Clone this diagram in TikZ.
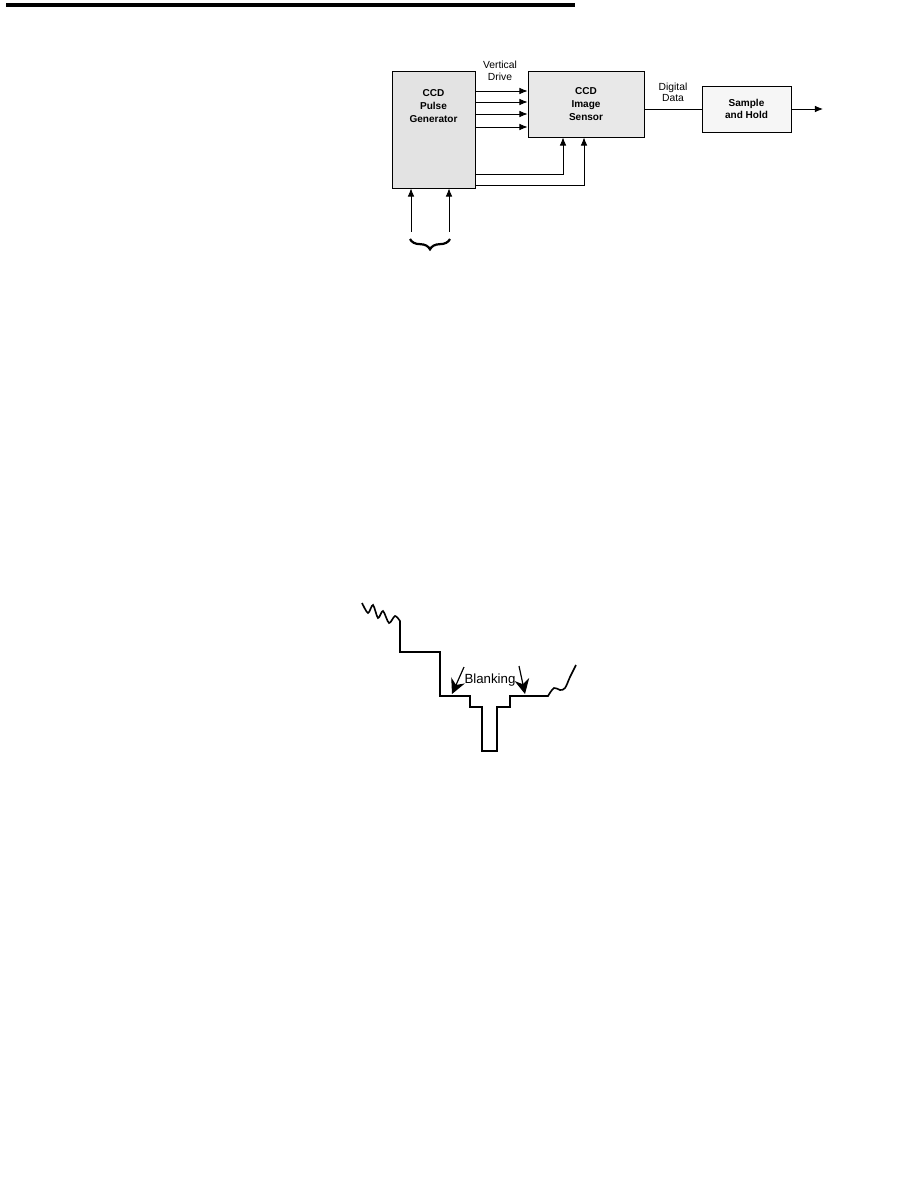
\documentclass[tikz,border=0pt]{standalone}
\usepackage{fontspec}
\setmainfont{Liberation Sans}
\usetikzlibrary{arrows.meta, positioning, decorations.pathreplacing}

\newcommand{\pxu}{0.678pt}
\tikzset{
  blk/.style={draw, line width=0.6pt, inner sep=0pt, align=center,
    font=\bfseries\fontsize{6.8}{8.6}\selectfont},
  blklbl/.style={inner sep=0pt, align=center, font=\bfseries\fontsize{6.8}{8.8}\selectfont},
  sig/.style={line width=0.6pt, -{Latex[length=5.5pt,width=4.5pt]}},
  wire/.style={line width=0.6pt},
  tag/.style={font=\fontsize{7}{7.8}\selectfont, align=center, inner sep=0pt},
  wave/.style={line width=1.1pt, line join=miter},
  pointer/.style={line width=0.8pt, -{Stealth[length=10pt,width=10pt]}}
}

\begin{document}
\begin{tikzpicture}[x=\pxu, y=-\pxu]
    \useasboundingbox (0,0) rectangle (902,1178);

    % --- Filet du haut ---
    \draw[line width=2.8pt] (6,5) -- (575,5);

    % --- Blocs ---
    \node[blk, fill=gray!22, minimum width=83*\pxu, minimum height=117*\pxu] (gen) at (433.5,129.5) {};
    \node[blklbl] (genlbl) at (433.5,106) {CCD\\Pulse\\Generator};
    \node[blk, fill=gray!18, minimum width=116*\pxu, minimum height=66*\pxu] (sens) at (586,104) {CCD\\Image\\Sensor};
    \node[blk, fill=gray!7, minimum width=89*\pxu, minimum height=46*\pxu] (sh) at (746.5,109) {Sample\\and Hold};

    % --- Etiquettes ---
    \node[tag] (vd) at (500,71) {Vertical\\Drive};
    \node[tag] (dd) at (673,92.5) {Digital\\Data};

    % --- Vertical drive ---
    \foreach \yy in {91,102,114,127}
        \draw[sig] (gen.east |- 0,\yy) -- (sens.west |- 0,\yy);

    % --- Horloges vers le capteur ---
    \draw[sig] (gen.east |- 0,174) -| (sens.south -| 563,0);
    \draw[sig] (gen.east |- 0,185) -| (sens.south -| 584,0);

    % --- Donnees et sortie ---
    \coordinate (out) at (823,109);
    \draw[wire] (sens.east |- sh.west) -- (sh.west);
    \draw[sig] (sh.east) -- (out);

    % --- Entrees du generateur ---
    \coordinate (in1) at (411,232);
    \coordinate (in2) at (449,232);
    \draw[sig] (in1) -- (in1 |- gen.south);
    \draw[sig] (in2) -- (in2 |- gen.south);
    \draw[line width=1.5pt, decorate, decoration={brace, amplitude=7pt}] (450,239) -- (410,239);

    % --- Signal video ---
    \draw[wave] plot[smooth, tension=0.5] coordinates {(362,603) (368,613) (373,605) (378,618) (383,611) (389,623) (395,616) (400,621)}
        -- (400,652) -- (440,652) -- (440,696) -- (470,696) -- (470,707) -- (482,707) -- (482,751)
        -- (497,751) -- (497,707) -- (510,707) -- (510,696) -- (548,696)
        -- plot[smooth, tension=0.6] coordinates {(548,696) (554,688) (560,690) (565,688) (570,677) (576,665)};

    % --- Blanking ---
    \node[font=\fontsize{9}{10}\selectfont, inner sep=0pt] (blank) at (490,680) {Blanking};
    \coordinate (p1) at (464,667);
    \coordinate (q1) at (452,694);
    \coordinate (p2) at (519,666);
    \coordinate (q2) at (525,694);
    \draw[pointer] (p1) -- (q1);
    \draw[pointer] (p2) -- (q2);
\end{tikzpicture}
\end{document}
